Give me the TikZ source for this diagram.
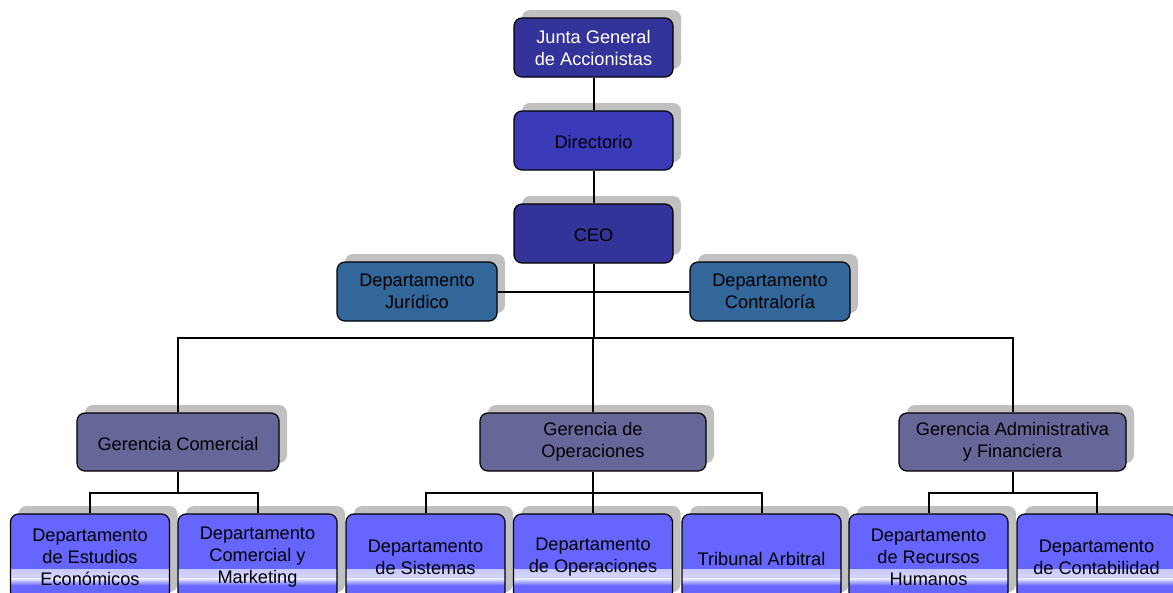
\documentclass[tikz,border=0pt]{standalone}
\usepackage{fontspec}
\setmainfont{Liberation Sans}
\usetikzlibrary{shadows,calc}
\definecolor{navy}{HTML}{333399}
\definecolor{royal}{HTML}{3A3AB8}
\definecolor{steel}{HTML}{336699}
\definecolor{slate}{HTML}{666699}
\definecolor{periw}{HTML}{6666FF}
\definecolor{shadowgray}{HTML}{C0C0C0}
\tikzset{
  unit/.style={draw=black, line width=1.2pt, rounded corners=8pt, align=center,
    inner sep=0pt, font=\fontsize{18.2}{22}\selectfont,
    execute at begin node={\rule{0pt}{17pt}},
    drop shadow={shadow xshift=8pt, shadow yshift=8pt, fill=shadowgray, opacity=1}},
  toplevel/.style={unit, minimum width=159pt, minimum height=59pt},
  staff/.style={unit, fill=steel, minimum width=160pt, minimum height=59pt},
  manager/.style={unit, fill=slate, minimum height=58pt},
  dept/.style={unit, fill=periw, minimum width=159pt, minimum height=86pt,
    path picture={
      \shade[top color=periw, bottom color=white]
        ($(path picture bounding box.center)+(-100pt,-12pt)$) rectangle ++(200pt,-8.5pt);
      \shade[top color=white, bottom color=periw]
        ($(path picture bounding box.center)+(-100pt,-20.5pt)$) rectangle ++(200pt,-8pt);
    }},
  wire/.style={line width=2pt, black}
}
\begin{document}
\begin{tikzpicture}[x=1pt, y=-1pt]
  \clip (0,0) rectangle (1173,592);
  \fill[white] (0,0) rectangle (1173,592);

  % governance chain
  \node[toplevel, fill=navy, text=white] (junta) at (593.5,47.5) {Junta General\\de Accionistas};
  \node[toplevel, fill=royal] (dir) at (593.5,140.5) {Directorio};
  \node[toplevel, fill=navy] (ceo) at (593.5,233.5) {CEO};

  % staff departments
  \node[staff] (jur) at (417,291.5) {Departamento\\Jurídico};
  \node[staff] (con) at (770,291.5) {Departamento\\Contraloría};

  % management
  \node[manager, minimum width=202pt] (gc) at (178,442) {Gerencia Comercial};
  \node[manager, minimum width=226pt] (go) at (593,442) {Gerencia de\\Operaciones};
  \node[manager, minimum width=227pt] (ga) at (1012.5,442) {Gerencia Administrativa\\y Financiera};

  % departments
  \node[dept] (est) at (90,557) {Departamento\\de Estudios\\Económicos};
  \node[dept] (mkt) at (257.5,557) {Departamento\\Comercial y\\Marketing};
  \node[dept] (sis) at (425.5,557) {Departamento\\de Sistemas};
  \node[dept] (ope) at (593,557) {Departamento\\de Operaciones};
  \node[dept] (tri) at (761.5,557) {Tribunal Arbitral};
  \node[dept] (rrhh) at (928.5,557) {Departamento\\de Recursos\\Humanos};
  \node[dept] (cont) at (1096.5,557) {Departamento\\de Contabilidad};

  % bus levels
  \coordinate (busG) at (0,338);
  \coordinate (busC) at (0,493);

  % connectors
  \draw[wire] (junta) -- (dir);
  \draw[wire] (dir) -- (ceo);
  \draw[wire] (ceo.south) -- (ceo.south |- busG);
  \draw[wire] (jur) -- (con);
  \draw[wire] (gc.north) -- (gc.north |- busG) -- (ga.north |- busG) -- (ga.north);
  \draw[wire] (go.north) -- (go.north |- busG);

  \draw[wire] (gc.south) -- (gc.south |- busC);
  \draw[wire] (est.north) -- (est.north |- busC) -- (mkt.north |- busC) -- (mkt.north);

  \draw[wire] (go.south) -- (ope.north);
  \draw[wire] (sis.north) -- (sis.north |- busC) -- (tri.north |- busC) -- (tri.north);

  \draw[wire] (ga.south) -- (ga.south |- busC);
  \draw[wire] (rrhh.north) -- (rrhh.north |- busC) -- (cont.north |- busC) -- (cont.north);
\end{tikzpicture}
\end{document}
